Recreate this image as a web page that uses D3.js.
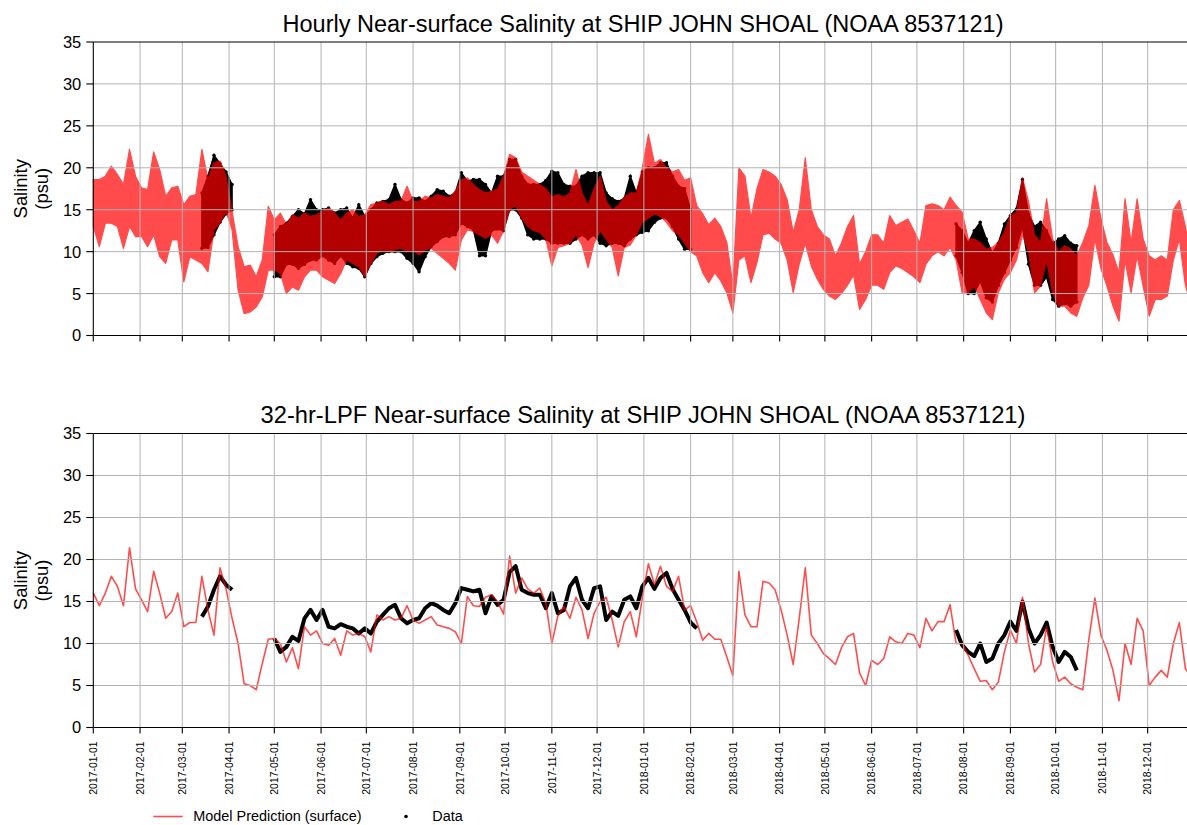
<!DOCTYPE html>
<html><head><meta charset="utf-8">
<script src="https://cdn.jsdelivr.net/npm/d3@7"></script>
<style>
body{margin:0;background:#fff}
text{font-family:"Liberation Sans",Arial,Helvetica,sans-serif;fill:#000}
</style>
</head><body>
<svg id="c" width="1187" height="825"></svg>
<script>
// ---------------- DATA ----------------
// Model series sampled every 4 days from 2017-01-01; hourly shown as min/max envelope
const startDate = "2017-01-01";
const stepDays = 4;
const modelHourlyHi = [18.6,18.6,19.0,20.2,19.2,18.0,22.2,19.0,17.6,17.4,
21.9,19.8,16.6,17.6,17.8,15.6,16.6,16.8,22.2,18.6,
20.6,20.8,19.0,14.8,10.6,8.2,8.4,7.0,9.0,15.4,
13.8,14.6,13.2,14.4,14.0,14.6,14.2,14.4,14.8,15.2,
14.6,13.8,14.6,15.0,14.2,14.4,15.6,15.8,16.0,15.6,
16.0,16.0,17.8,16.0,16.0,16.6,16.4,16.8,16.6,16.4,
17.2,18.6,18.8,18.0,17.4,17.0,17.2,17.5,19.0,21.6,
21.2,19.5,19.0,18.5,18.0,17.5,16.5,16.8,16.5,17.0,
19.8,17.0,15.5,17.5,19.0,16.0,15.0,15.5,16.5,17.0,
17.0,20.0,24.0,20.5,21.0,20.0,19.5,19.8,18.5,18.8,
15.5,14.5,13.2,14.0,13.0,11.1,6.0,20.0,19.0,14.0,
17.5,19.8,19.5,19.0,18.0,16.2,12.3,15.0,21.2,15.0,
13.0,12.0,11.5,9.5,11.0,13.0,14.3,8.5,10.0,12.0,
12.0,11.0,14.3,13.1,13.5,13.9,12.5,11.0,15.5,15.7,
15.5,15.0,16.5,15.5,14.7,11.5,11.5,11.1,10.3,10.5,
11.1,12.3,14.3,14.7,18.8,16.0,12.0,11.1,16.3,11.5,
10.0,10.7,10.3,9.5,11.1,13.1,17.9,14.0,11.1,9.6,
7.5,16.3,11.1,16.3,11.5,9.5,9.0,9.5,9.0,15.0,
16.1,13.0,9.0];
const modelHourlyLo = [13.0,10.6,13.4,13.4,13.0,10.4,13.0,11.8,11.8,10.6,
12.0,9.4,8.6,11.4,11.4,6.4,9.4,9.0,8.6,7.6,
12.6,13.4,14.8,12.6,5.4,2.6,2.8,3.4,4.6,7.8,
7.8,7.4,5.0,5.8,5.4,7.0,7.8,7.8,7.0,6.6,
6.2,7.4,9.0,8.6,8.2,7.0,8.6,9.8,10.2,10.0,
10.2,10.4,10.0,10.2,9.6,10.2,10.4,9.8,9.2,8.6,
7.8,11.4,12.6,12.4,12.0,11.6,12.0,11.0,12.5,15.0,
15.5,14.0,13.0,12.5,12.3,11.5,8.3,10.5,10.7,11.0,
12.0,10.8,8.1,11.0,12.5,11.5,10.5,7.1,10.5,10.8,
12.0,13.5,14.0,14.5,14.2,13.5,12.5,12.0,11.0,10.0,
9.5,7.5,6.3,7.5,6.5,5.1,2.7,9.0,9.5,6.3,
8.7,12.0,12.2,11.5,11.0,9.0,5.1,8.5,11.0,8.3,
6.7,5.5,4.7,4.3,5.0,6.0,7.2,3.1,4.3,6.0,
6.0,5.5,7.5,8.3,8.0,7.5,7.0,6.3,8.5,9.5,
10.0,9.5,10.5,9.0,5.1,5.1,5.9,4.3,2.7,1.9,
5.1,6.7,7.5,9.0,12.0,10.0,5.1,5.9,9.0,5.1,
3.5,3.5,2.7,2.3,4.5,6.0,11.5,8.0,5.9,3.5,
1.7,9.0,5.1,9.5,5.9,2.3,4.3,4.3,4.7,9.0,
11.5,6.0,3.5];
const modelLPF = [16.0,14.5,16.0,18.0,16.8,14.5,21.4,16.5,15.2,13.8,
18.6,16.0,13.0,13.8,16.0,12.0,12.5,12.5,18.0,14.0,
11.0,19.0,16.5,13.0,10.0,5.2,5.0,4.5,7.6,10.5,
10.6,10.0,7.8,9.5,7.0,12.0,11.0,11.5,10.0,9.8,
10.6,8.6,11.5,11.0,11.2,10.8,9.0,13.4,12.8,13.2,
12.8,13.0,14.5,12.8,12.4,12.8,13.2,12.2,12.0,11.8,
11.4,10.0,15.6,14.5,14.4,15.5,15.8,15.0,13.5,20.4,
16.0,17.8,16.5,16.0,16.6,14.8,10.0,13.3,14.4,13.0,
15.5,14.0,10.6,13.6,15.0,15.5,12.8,9.6,12.6,13.8,
10.8,15.5,19.5,17.0,19.2,16.8,16.2,18.0,14.0,14.5,
12.6,10.4,11.2,10.5,10.5,8.4,6.2,18.6,13.4,12.0,
12.0,17.4,17.2,16.4,14.0,11.0,7.5,13.0,19.0,11.0,
10.0,8.8,8.2,7.5,9.5,10.8,11.2,6.5,5.0,8.0,
7.5,8.2,10.8,10.2,10.0,11.2,11.0,9.5,13.0,11.5,
12.6,12.6,14.6,10.0,10.0,8.6,7.0,5.5,5.6,4.5,
5.4,9.0,11.6,10.0,15.5,10.0,6.6,7.5,12.0,7.8,
5.5,6.0,5.2,4.8,4.5,10.5,15.4,11.0,9.2,6.8,
3.2,10.0,7.5,13.0,11.5,5.0,6.0,6.8,6.0,10.0,
12.5,7.0,6.0];

// Observed data: three deployment segments, each sampled every 4 days
const obsStarts = ["2017-03-14","2017-05-01","2018-07-27"];
const obsHourlyHi1 = [17.0,19.0,21.5,20.5,19.5,18.0];
const obsHourlyLo1 = [10.4,10.5,12.0,13.5,14.5,15.0];
const obsHourlyHi2 = [12.0,13.0,13.4,14.2,15.0,14.5,16.2,15.0,15.0,15.2,
14.6,15.0,15.2,14.0,15.6,14.2,15.0,15.8,16.0,16.2,
18.0,16.2,15.8,16.4,16.4,16.0,16.6,17.4,17.2,16.6,
17.0,19.4,18.4,18.6,18.6,18.0,17.0,19.0,19.0,21.0,
21.0,19.0,18.0,18.0,18.0,18.5,19.6,19.4,18.0,17.8,
17.8,19.0,19.4,19.4,19.4,17.0,16.3,16.0,16.3,19.0,
17.0,19.5,20.0,20.0,20.6,20.6,19.0,17.8,17.5,15.0];
const obsHourlyLo2 = [7.0,7.0,8.5,8.5,8.0,8.5,9.0,9.0,9.5,9.0,
8.6,9.5,8.6,8.2,8.0,7.0,8.6,9.4,9.8,10.0,
10.0,10.0,9.2,8.6,7.6,9.4,10.6,11.2,11.8,11.8,
12.0,13.4,13.0,12.6,9.5,9.5,12.5,12.7,12.5,15.0,
15.0,14.0,12.0,11.5,11.5,11.5,11.0,11.0,11.0,11.0,
11.5,12.0,11.5,12.0,11.0,10.7,11.0,11.0,10.7,11.5,
12.0,12.3,12.5,13.5,14.0,14.0,13.0,11.5,10.3,10.3];
const obsHourlyHi3 = [13.3,12.5,11.0,12.5,13.5,11.5,9.8,11.0,13.3,14.3,
15.1,18.6,14.5,13.0,13.5,12.5,11.0,11.5,11.9,11.0,10.7];
const obsHourlyLo3 = [9.5,7.5,5.0,5.0,6.5,4.5,4.0,6.0,7.5,9.0,
10.5,13.0,8.5,6.0,6.0,7.0,4.3,3.5,3.8,3.5,4.0];
const obsLPF1 = [13.2,14.4,16.4,18.0,17.0,16.4];
const obsLPF2 = [10.6,9.0,9.6,10.8,10.3,13.0,14.0,12.8,14.0,12.0,
11.8,12.3,12.0,11.8,11.2,11.8,11.2,12.6,13.4,14.2,
14.6,13.0,12.4,12.8,13.0,14.2,14.8,14.5,14.0,13.6,
14.8,16.6,16.4,16.2,16.4,13.6,15.6,14.6,15.2,18.5,
19.2,16.4,16.0,15.8,15.8,14.2,16.0,13.6,14.0,16.8,
17.8,15.2,14.2,16.6,16.8,12.8,13.8,13.3,15.2,15.6,
14.2,16.8,17.8,16.5,17.8,18.4,16.5,15.2,14.0,12.5,11.8];
const obsLPF3 = [11.6,9.8,9.0,8.5,10.0,7.8,8.2,10.0,11.0,12.6,
11.5,15.0,11.8,10.0,11.0,12.5,9.6,7.8,9.0,8.4,6.8];

const yTickValues = [0,5,10,15,20,25,30,35];
const titles = ["Hourly Near-surface Salinity at SHIP JOHN SHOAL (NOAA 8537121)",
                "32-hr-LPF Near-surface Salinity at SHIP JOHN SHOAL (NOAA 8537121)"];
const yLabelLines = ["Salinity","(psu)"];
const legendLabels = ["Model Prediction (surface)","Data"];

// ---------------- CHART ----------------
const svg = d3.select("#c");
const parse = d3.utcParse("%Y-%m-%d");
const fmt = d3.utcFormat("%Y-%m-%d");
const t0 = parse(startDate);
const gridDates = modelHourlyHi.map((_, i) => d3.utcDay.offset(t0, i * stepDays));
const segDates = (start, arr) => arr.map((_, i) => d3.utcDay.offset(parse(start), i * stepDays));

const xL = 93.3, pxPerDay = 1.5084;
const x = d3.scaleUtc().domain([parse("2017-01-01"), parse("2018-12-31")])
  .range([xL, xL + 729 * pxPerDay]);
const monthTicks = d3.utcMonth.range(parse("2017-01-01"), parse("2018-12-31"));
const RED = "#ff0000", ALPHA = 0.7, GRID = "#b3b3b3";

function fitText(sel, target, base) {
  sel.style("font-size", base + "px");
  const w = sel.node().getComputedTextLength();
  sel.style("font-size", (base * target / w).toFixed(2) + "px");
}

const panels = [
  {top: 42, bottom: 335.5, labels: false},
  {top: 433.5, bottom: 727.5, labels: true}
];

panels.forEach((p, pi) => {
  const y = d3.scaleLinear().domain([0, 35]).range([p.bottom, p.top]);
  const g = svg.append("g");
  const xR = 1187;

  if (pi === 0) {
    // observed hourly: dense dot cloud shown as envelope + dots
    const segs = [[obsHourlyHi1, obsHourlyLo1], [obsHourlyHi2, obsHourlyLo2], [obsHourlyHi3, obsHourlyLo3]];
    segs.forEach(([hi, lo], si) => {
      const ds = segDates(obsStarts[si], hi);
      const pts = ds.map((d, i) => ({d, hi: hi[i], lo: lo[i]}));
      g.append("path").datum(pts)
        .attr("d", d3.area().x(v => x(v.d)).y0(v => y(v.lo)).y1(v => y(v.hi)))
        .attr("fill", "#000").attr("stroke", "#000").attr("stroke-width", 1.5);
      const dots = pts.flatMap(v => [{d: v.d, v: v.hi}, {d: v.d, v: v.lo}]);
      g.selectAll(null).data(dots).enter().append("circle")
        .attr("cx", v => x(v.d)).attr("cy", v => y(v.v)).attr("r", 1.7).attr("fill", "#000");
    });
    // model hourly envelope (semi-transparent red on top of data)
    const mp = gridDates.map((d, i) => ({d, hi: modelHourlyHi[i], lo: modelHourlyLo[i]}));
    const mg = g.append("g").attr("opacity", ALPHA);
    mg.append("path").datum(mp)
      .attr("d", d3.area().x(v => x(v.d)).y0(v => y(v.lo)).y1(v => y(v.hi)))
      .attr("fill", RED).attr("stroke", RED).attr("stroke-width", 1.2).attr("stroke-linejoin", "round");
  } else {
    const segs = [obsLPF1, obsLPF2, obsLPF3];
    segs.forEach((arr, si) => {
      const ds = segDates(obsStarts[si], arr);
      g.append("path").datum(arr.map((v, i) => ({d: ds[i], v})))
        .attr("d", d3.line().x(v => x(v.d)).y(v => y(v.v)))
        .attr("fill", "none").attr("stroke", "#000").attr("stroke-width", 4)
        .attr("stroke-linejoin", "round");
    });
    const mg = g.append("g").attr("opacity", ALPHA);
    mg.append("path").datum(gridDates.map((d, i) => ({d, v: modelLPF[i]})))
      .attr("d", d3.line().x(v => x(v.d)).y(v => y(v.v)))
      .attr("fill", "none").attr("stroke", RED).attr("stroke-width", 1.6)
      .attr("stroke-linejoin", "round");
  }

  // grid (drawn over data, as in reference)
  const gg = svg.append("g");
  gg.selectAll(null).data(monthTicks.slice(1)).enter().append("line")
    .attr("x1", d => x(d)).attr("x2", d => x(d)).attr("y1", p.top).attr("y2", p.bottom)
    .attr("stroke", GRID).attr("stroke-width", 1);
  gg.selectAll(null).data(yTickValues.slice(1, -1)).enter().append("line")
    .attr("x1", xL).attr("x2", xR).attr("y1", d => y(d)).attr("y2", d => y(d))
    .attr("stroke", GRID).attr("stroke-width", 1);

  // spines
  const sp = svg.append("g").attr("stroke", "#000").attr("stroke-width", 1.1);
  sp.append("line").attr("x1", xL).attr("x2", xR).attr("y1", p.top).attr("y2", p.top);
  sp.append("line").attr("x1", xL).attr("x2", xR).attr("y1", p.bottom).attr("y2", p.bottom);
  sp.append("line").attr("x1", xL).attr("x2", xL).attr("y1", p.top).attr("y2", p.bottom);

  // y ticks
  const yt = svg.append("g");
  yt.selectAll(null).data(yTickValues).enter().append("line")
    .attr("x1", xL - 7).attr("x2", xL).attr("y1", d => y(d)).attr("y2", d => y(d))
    .attr("stroke", "#000").attr("stroke-width", 1.1);
  yt.selectAll(null).data(yTickValues).enter().append("text")
    .attr("x", xL - 12).attr("y", d => y(d)).attr("dy", "0.36em")
    .attr("text-anchor", "end").style("font-size", "16.5px").text(d => d);

  // x ticks
  const xt = svg.append("g");
  xt.selectAll(null).data(monthTicks).enter().append("line")
    .attr("x1", d => x(d)).attr("x2", d => x(d)).attr("y1", p.bottom).attr("y2", p.bottom + 6)
    .attr("stroke", "#000").attr("stroke-width", 1.1);
  if (p.labels) {
    xt.selectAll(null).data(monthTicks).enter().append("text")
      .attr("transform", d => `translate(${x(d)},${p.bottom + 14}) rotate(-90)`)
      .attr("dy", "0.36em").attr("text-anchor", "end")
      .style("font-size", "10.4px").text(d => fmt(d));
  }

  // title
  const tt = svg.append("text").attr("x", 643).attr("y", p.top - 10.5)
    .attr("text-anchor", "middle").text(titles[pi]);
  fitText(tt, pi === 0 ? 721 : 765, 20);

  // y label: two centered lines, rotated, centred on the axes
  const cy = (p.top + p.bottom) / 2;
  const yl = svg.append("text").attr("transform", `translate(0,${cy}) rotate(-90)`)
    .attr("text-anchor", "middle").style("font-size", "18.4px");
  yl.append("tspan").attr("x", 0).attr("y", 26.5).text(yLabelLines[0]);
  yl.append("tspan").attr("x", 0).attr("y", 48).text(yLabelLines[1]);
});

// legend
const lg = svg.append("g");
lg.append("line").attr("x1", 153.3).attr("x2", 182.7).attr("y1", 816.5).attr("y2", 816.5)
  .attr("stroke", RED).attr("stroke-opacity", ALPHA).attr("stroke-width", 1.6);
const l1 = lg.append("text").attr("x", 193.3).attr("y", 821).text(legendLabels[0]);
fitText(l1, 168.4, 14);
lg.append("circle").attr("cx", 406).attr("cy", 816.5).attr("r", 1.8).attr("fill", "#000");
const l2 = lg.append("text").attr("x", 432.3).attr("y", 821).text(legendLabels[1]);
l2.style("font-size", l1.style("font-size"));
</script>
</body></html>
